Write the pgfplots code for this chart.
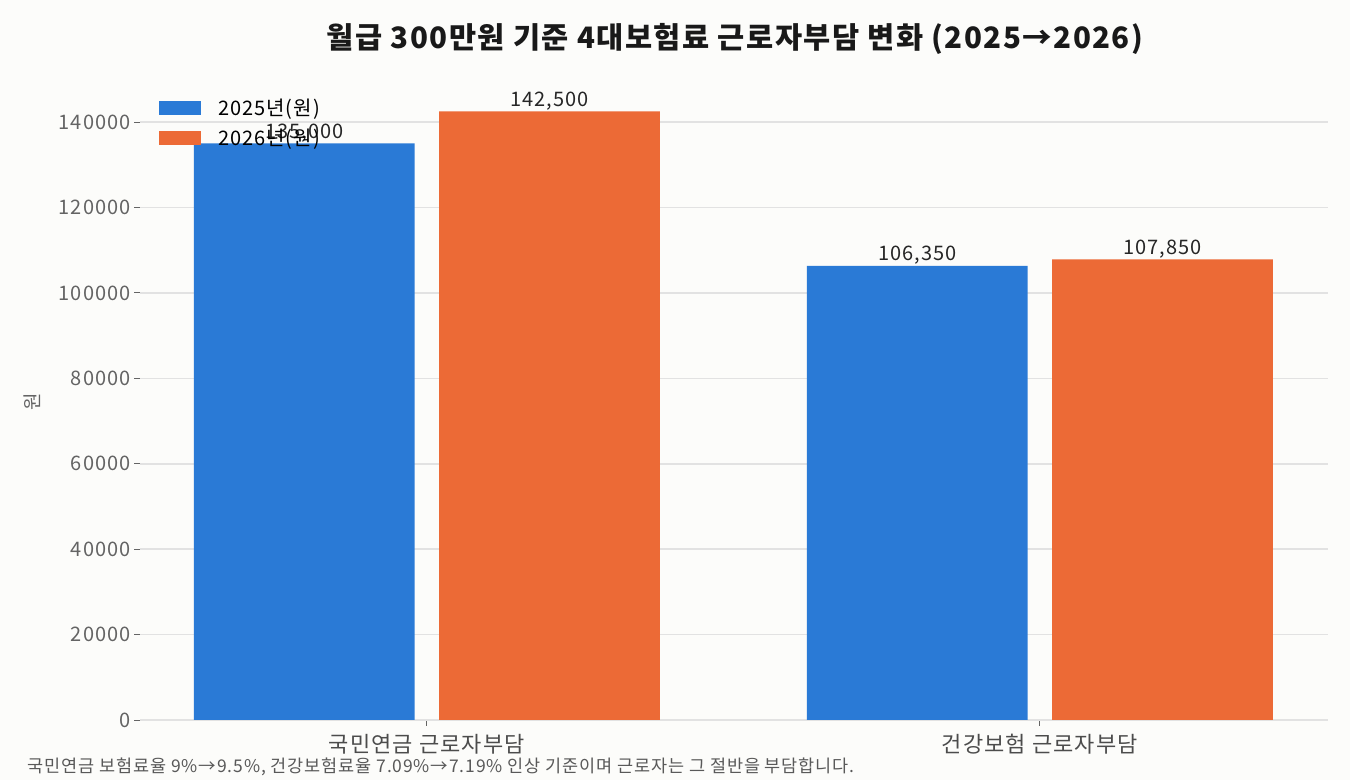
\documentclass[border=0pt]{standalone}
\usepackage{pgfplots}
\pgfplotsset{compat=1.18}
\usepackage{fontspec}
\setmainfont[LetterSpace=5]{Noto Sans CJK KR}

\definecolor{bg}{RGB}{252,252,250}
\definecolor{blue25}{RGB}{42,122,214}
\definecolor{orange26}{RGB}{236,106,54}
\definecolor{gridc}{RGB}{226,226,226}
\definecolor{tickc}{RGB}{100,100,100}

\begin{document}
\begin{tikzpicture}
\fill[bg] (0,0) rectangle (1350bp,780bp);
\begin{axis}[
    at={(140bp,60bp)}, anchor=south west,
    scale only axis,
    width=1188bp, height=639bp,
    xmin=-0.468, xmax=1.47,
    ymin=0, ymax=149625,
    ybar,
    axis x line*=bottom, axis y line*=left,
    axis line style={-},
    x axis line style={draw=gridc, line width=1.5bp},
    y axis line style={draw=none},
    tick align=outside,
    major tick length=6bp,
    tick style={draw=tickc, line width=1bp},
    xtick={0,1},
    xticklabels={국민연금 근로자부담, 건강보험 근로자부담},
    xticklabel style={font=\fontsize{22bp}{24bp}\selectfont, text=black!70, yshift=-5bp},
    ytick={0,20000,40000,60000,80000,100000,120000,140000},
    scaled y ticks=false,
    yticklabel style={/pgf/number format/.cd, fixed, 1000 sep={}, assume math mode=true, /tikz/.cd,
        font=\fontsize{20bp}{22bp}\selectfont, text=tickc},
    ymajorgrids,
    grid style={draw=gridc, line width=1.5bp},
    ylabel={원},
    every axis y label/.style={at={(axis description cs:-0.0909,0.498)}, rotate=90, anchor=center,
        font=\fontsize{19bp}{21bp}\selectfont, text=tickc},
    bar width=0.36,
    nodes near coords={\pgfmathprintnumber[fixed, 1000 sep={,}, assume math mode=true]{\pgfplotspointmeta}},
    every node near coord/.append style={font=\fontsize{20bp}{22bp}\selectfont, text=black!85, anchor=south, inner sep=1bp},
    legend style={at={(0,1)}, anchor=north west, xshift=19bp, yshift=-16bp,
        draw=none, fill=none, font=\fontsize{20bp}{22bp}\selectfont,
        row sep=8bp, column sep=15bp, inner sep=0pt, cells={anchor=west}},
    legend image code/.code={\fill[#1] (0bp,-7bp) rectangle (42bp,7bp);},
]
\addplot[bar shift=-0.2, fill=blue25, draw=none] coordinates {
    (0, 135000)
    (1, 106350)
};
\addlegendentry{2025년(원)}
\addplot[bar shift=0.2, fill=orange26, draw=none] coordinates {
    (0, 142500)
    (1, 107850)
};
\addlegendentry{2026년(원)}
\end{axis}
\node[font=\bfseries\fontsize{29.5bp}{32bp}\selectfont, text=black!90] at (735bp,741bp) {월급 300만원 기준 4대보험료 근로자부담 변화 (2025→2026)};
\node[font=\fontsize{17.5bp}{19bp}\selectfont, text=black!65, anchor=west] at (24bp,13bp) {국민연금 보험료율 9\%→9.5\%, 건강보험료율 7.09\%→7.19\% 인상 기준이며 근로자는 그 절반을 부담합니다.};
\pgfresetboundingbox
\useasboundingbox (0,0) rectangle (1350bp,780bp);
\end{tikzpicture}
\end{document}
